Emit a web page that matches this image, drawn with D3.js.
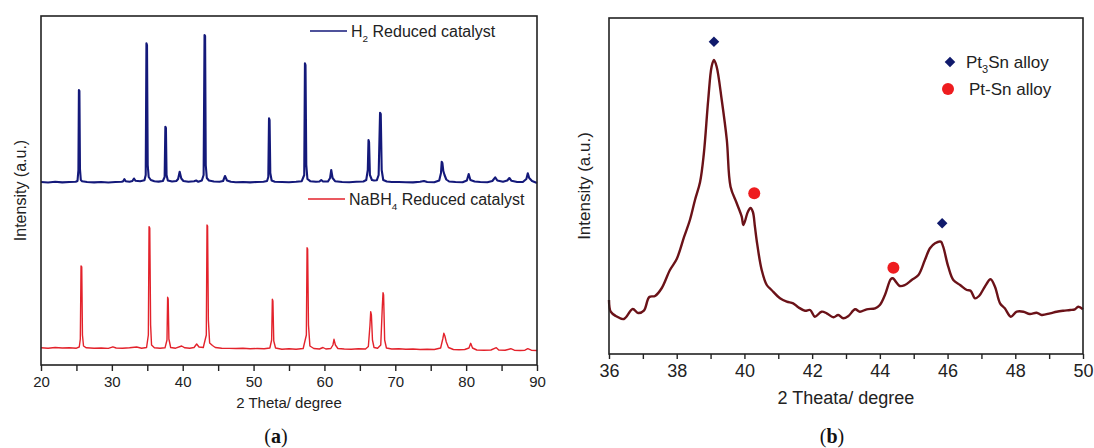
<!DOCTYPE html>
<html>
<head>
<meta charset="utf-8">
<script src="https://cdn.jsdelivr.net/npm/d3@7"></script>
<style>
  html, body { margin: 0; padding: 0; background: #fff; }
  svg { display: block; font-family: "Liberation Sans", Arial, sans-serif; }
</style>
</head>
<body>
<svg id="fig" width="1094" height="448"></svg>
<script>
// ---------- Panel (a): wide-angle XRD patterns, [2θ (deg), intensity (a.u.)] ----------
const h2Reduced = [
  [20.0,1830],[21.0,1825],[22.0,1832],[23.0,1826],[24.0,1830],[24.9,1832],
  [25.15,1840],[25.28,1950],[25.35,2750],[25.42,2740],[25.5,1960],[25.62,1850],[25.8,1838],
  [26.5,1830],[27.5,1826],[28.5,1830],[29.5,1825],[30.5,1830],[31.4,1832],
  [31.6,1838],[31.76,1858],[31.95,1838],[32.5,1832],[32.9,1840],[33.12,1865],[33.35,1842],
  [34.0,1838],[34.6,1848],
  [34.78,1900],[34.88,3217],[34.96,3200],[35.06,2000],[35.2,1880],[35.5,1850],[36.0,1838],[36.6,1834],[37.2,1840],
  [37.45,1880],[37.55,2383],[37.63,2370],[37.72,1900],[37.9,1845],[38.5,1835],[39.1,1840],
  [39.35,1860],[39.57,1933],[39.8,1865],[40.1,1840],[40.8,1832],[41.6,1838],[41.9,1845],[42.2,1832],[42.7,1845],
  [42.95,1900],[43.08,3300],[43.16,3290],[43.25,2000],[43.4,1870],[43.7,1845],[44.4,1835],[45.2,1832],[45.7,1840],
  [45.97,1890],[46.25,1845],[46.8,1832],[47.5,1828],[48.5,1830],[49.5,1826],[50.5,1830],[51.4,1832],[51.9,1840],
  [52.08,1880],[52.18,2467],[52.26,2450],[52.36,1920],[52.55,1845],[53.0,1833],[54.0,1830],[55.0,1828],[56.0,1832],[56.8,1838],
  [57.15,1900],[57.25,3017],[57.33,3000],[57.44,2000],[57.6,1860],[58.0,1838],[58.8,1832],[59.3,1835],[59.55,1850],[59.8,1835],[60.5,1835],
  [60.8,1870],[60.96,1950],[61.15,1870],[61.5,1838],[62.5,1830],[63.5,1828],[64.5,1832],[65.5,1835],[65.9,1850],
  [66.12,1950],[66.22,2250],[66.3,2230],[66.42,1900],[66.7,1850],[67.0,1845],[67.4,1848],[67.65,1900],
  [67.85,2523],[67.95,2510],[68.08,1950],[68.3,1850],[68.8,1835],[69.5,1830],[70.5,1830],[71.5,1828],[72.5,1826],[73.5,1832],[74.05,1840],[74.5,1830],[75.5,1828],[76.2,1845],
  [76.45,1920],[76.55,2033],[76.65,2020],[76.78,1940],[76.95,1900],[77.2,1855],[77.6,1835],[78.5,1830],[79.5,1828],[80.1,1845],
  [80.36,1910],[80.6,1850],[81.2,1835],[82.0,1830],[83.0,1828],[83.7,1840],[84.1,1877],[84.4,1845],[85.2,1832],[85.8,1845],[86.1,1870],[86.4,1842],[87.2,1830],[88.0,1830],[88.5,1860],[88.7,1917],[88.9,1870],[89.3,1840],[90.0,1820]
];

const nabh4Reduced = [
  [20.0,172],[21.0,168],[22.0,175],[23.0,170],[24.0,172],[25.0,168],[25.4,180],
  [25.55,260],[25.65,990],[25.75,980],[25.85,300],[26.0,190],[26.4,172],[27.5,168],[28.5,170],[29.5,166],[30.15,182],[30.6,170],[31.5,168],[32.5,172],[33.5,180],[34.2,168],[34.9,175],
  [35.15,300],[35.25,1383],[35.35,1370],[35.47,400],[35.6,200],[36.0,172],[36.8,168],[37.5,172],
  [37.78,250],[37.87,677],[37.95,660],[38.05,260],[38.3,175],[39.0,168],[39.85,190],[40.3,172],[41.0,168],[41.6,175],[41.97,210],[42.3,180],[42.9,175],
  [43.33,300],[43.43,1400],[43.51,1390],[43.62,450],[43.8,220],[44.2,195],[44.6,175],[45.5,168],[46.5,166],[47.5,165],[48.5,168],[49.5,162],[50.5,165],[51.5,162],[52.3,170],
  [52.55,250],[52.65,657],[52.73,640],[52.85,240],[53.1,170],[54.0,158],[55.0,162],[56.0,158],[57.0,165],
  [57.45,300],[57.55,1173],[57.63,1160],[57.75,400],[57.95,190],[58.5,165],[59.3,160],[59.8,175],[60.2,160],[60.9,165],
  [61.2,200],[61.35,257],[61.55,200],[61.9,165],[62.8,160],[63.8,158],[64.8,162],[65.8,160],[66.2,185],
  [66.43,400],[66.53,533],[66.63,500],[66.78,250],[67.0,175],[67.5,168],[67.95,200],
  [68.18,600],[68.27,723],[68.35,700],[68.5,250],[68.75,170],[69.5,160],[70.5,162],[71.5,158],[72.5,160],[73.5,155],[74.5,158],[75.5,155],[76.4,170],
  [76.7,260],[76.85,317],[77.0,290],[77.2,230],[77.5,175],[78.2,155],[79.0,152],[79.8,155],[80.4,170],
  [80.64,217],[80.9,170],[81.5,150],[82.5,148],[83.5,150],[84.26,173],[84.6,150],[85.5,148],[86.3,163],[86.8,148],[87.6,145],[88.3,148],[88.7,163],[89.2,148],[90.0,145]
];

const xTicksA = [20, 30, 40, 50, 60, 70, 80, 90];
const xMinorA = [25, 35, 45, 55, 65, 75, 85];
const legendA = ["H", "2", " Reduced catalyst", "NaBH", "4", " Reduced catalyst"];

// ---------- Panel (b): narrow-scan XRD, [2θ (deg), intensity (a.u.)] ----------
const narrowScan = [
  [36.0,540],[36.05,423],[36.2,380],[36.44,350],[36.7,450],[36.86,410],[37.03,433],[37.19,570],[37.36,580],
  [37.56,660],[37.8,840],[38.0,950],[38.22,1173],[38.39,1340],[38.54,1540],[38.69,1720],[38.8,2000],
  [38.93,2540],[39.03,2873],[39.1,2940],[39.18,2873],[39.33,2540],[39.48,2140],[39.59,1673],[39.77,1510],
  [39.92,1373],[39.97,1290],[40.1,1420],[40.18,1460],[40.25,1420],[40.31,1273],[40.36,1140],[40.51,840],
  [40.66,690],[40.8,640],[41.05,557],[41.25,523],[41.44,507],[41.59,467],[41.79,433],[41.94,440],[42.08,373],
  [42.28,423],[42.43,407],[42.63,367],[42.77,390],[42.92,357],[43.07,380],[43.27,447],[43.41,423],[43.61,447],
  [43.86,457],[44.0,490],[44.15,590],[44.32,747],[44.38,757],[44.59,680],[44.74,690],[44.94,740],[45.14,790],
  [45.33,940],[45.48,1057],[45.63,1107],[45.8,1123],[45.87,1073],[46.02,873],[46.17,740],[46.37,690],[46.57,640],
  [46.68,633],[46.81,557],[46.93,580],[47.1,673],[47.27,747],[47.4,673],[47.55,507],[47.69,457],[47.87,373],
  [48.04,423],[48.24,423],[48.43,400],[48.63,413],[48.78,390],[49.03,407],[49.22,423],[49.42,433],[49.62,440],
  [49.76,447],[49.86,473],[50.0,447]
];
// phase markers placed above the reflections they identify
const pt3SnPeaks = [[39.1, 3123], [45.84, 1307]];
const ptSnPeaks  = [[40.29, 1607], [44.4, 863]];

const xTicksB = [36, 38, 40, 42, 44, 46, 48, 50];
const xMinorB = [37, 39, 41, 43, 45, 47, 49];
const legendB = ["Pt", "3", "Sn alloy", "Pt-Sn alloy"];

// ---------- styles ----------
const C_BLUE = "#14197a", C_RED = "#e3222b", C_MAROON = "#6b1218";
const C_DIAMOND = "#101a6c", C_DOT = "#ee1c1f", C_AXIS = "#222";

const svg = d3.select("#fig");

function frame(g, x, y) {
  const [x0, x1] = x.range(), [y0, y1] = y.range();
  g.append("rect").attr("x", x0).attr("y", y1).attr("width", x1 - x0).attr("height", y0 - y1)
    .attr("fill", "none").attr("stroke", C_AXIS).attr("stroke-width", 1.6);
}

function xAxis(g, x, y, majors, minors, fontSize, tickLen) {
  const yb = y.range()[0];
  const ax = g.append("g").attr("transform", `translate(0,${yb})`)
    .call(d3.axisBottom(x).tickValues(majors).tickSize(tickLen).tickPadding(5).tickFormat(d3.format("d")));
  ax.select(".domain").remove();
  ax.selectAll("line").attr("stroke", C_AXIS).attr("stroke-width", 1.4);
  ax.selectAll("text").attr("font-size", fontSize).attr("fill", "#222")
    .attr("font-family", "'Liberation Sans', Arial, sans-serif");
  const mn = g.append("g").attr("transform", `translate(0,${yb})`)
    .call(d3.axisBottom(x).tickValues(minors).tickSize(tickLen).tickFormat(""));
  mn.select(".domain").remove();
  mn.selectAll("line").attr("stroke", C_AXIS).attr("stroke-width", 1.4);
}

// ================= Panel (a) =================
const xA = d3.scaleLinear().domain([20, 90]).range([41, 537]);
const yA = d3.scaleLinear().domain([0, 3490]).range([365, 16]);
const gA = svg.append("g");

const lineA = d3.line().x(d => xA(d[0])).y(d => yA(d[1]));
gA.append("path").datum(nabh4Reduced).attr("d", lineA)
  .attr("fill", "none").attr("stroke", C_RED).attr("stroke-width", 1.4).attr("stroke-linejoin", "round");
gA.append("path").datum(h2Reduced).attr("d", lineA)
  .attr("fill", "none").attr("stroke", C_BLUE).attr("stroke-width", 2.1).attr("stroke-linejoin", "round");

frame(gA, xA, yA);
xAxis(gA, xA, yA, xTicksA, xMinorA, 15, 6);

gA.append("text").attr("x", (xA.range()[0] + xA.range()[1]) / 2).attr("y", 408)
  .attr("text-anchor", "middle").attr("font-size", 15).attr("fill", "#222").text("2 Theta/ degree");
gA.append("text").attr("transform", `translate(26,${(yA.range()[0] + yA.range()[1]) / 2}) rotate(-90)`)
  .attr("text-anchor", "middle").attr("font-size", 16).attr("fill", "#222").text("Intensity (a.u.)");

// legend entries
function legendLine(g, x, y, color, width, parts, fs) {
  g.append("line").attr("x1", x).attr("x2", x + 37).attr("y1", y).attr("y2", y)
    .attr("stroke", color).attr("stroke-width", width);
  const t = g.append("text").attr("x", x + 41).attr("y", y + 5.5).attr("font-size", fs).attr("fill", "#222");
  t.append("tspan").text(parts[0]);
  t.append("tspan").attr("font-size", fs * 0.62).attr("dy", 5).text(parts[1]);
  t.append("tspan").attr("dy", -5).text(parts[2]);
}
legendLine(gA, 310, 31, C_BLUE, 1.6, legendA.slice(0, 3), 16);
legendLine(gA, 308, 199, C_RED, 1.6, legendA.slice(3, 6), 16);

gA.append("text").attr("x", 276).attr("y", 443).attr("text-anchor", "middle")
  .attr("font-family", "'Liberation Serif', 'DejaVu Serif', serif").attr("font-size", 20).attr("fill", "#111")
  .html('(<tspan font-weight="bold">a</tspan>)');

// ================= Panel (b) =================
const xB = d3.scaleLinear().domain([36, 50]).range([609, 1083]);
const yB = d3.scaleLinear().domain([0, 3360]).range([354, 18]);
const gB = svg.append("g");

gB.append("path").datum(narrowScan)
  .attr("d", d3.line().x(d => xB(d[0])).y(d => yB(d[1])).curve(d3.curveCatmullRom.alpha(0.5)))
  .attr("fill", "none").attr("stroke", C_MAROON).attr("stroke-width", 2.4).attr("stroke-linejoin", "round");

// square turned 45° gives the rhombus marker
const diamond = d3.symbol().type(d3.symbolSquare).size(56);
gB.selectAll("path.pt3").data(pt3SnPeaks).join("path").attr("class", "pt3")
  .attr("d", diamond).attr("transform", d => `translate(${xB(d[0])},${yB(d[1])}) rotate(45)`).attr("fill", C_DIAMOND);
gB.selectAll("circle.ptsn").data(ptSnPeaks).join("circle").attr("class", "ptsn")
  .attr("cx", d => xB(d[0])).attr("cy", d => yB(d[1])).attr("r", 6).attr("fill", C_DOT);

frame(gB, xB, yB);
xAxis(gB, xB, yB, xTicksB, xMinorB, 18, 5);

gB.append("text").attr("x", (xB.range()[0] + xB.range()[1]) / 2).attr("y", 404)
  .attr("text-anchor", "middle").attr("font-size", 18).attr("fill", "#222").text("2 Theata/ degree");
gB.append("text").attr("transform", `translate(590,${(yB.range()[0] + yB.range()[1]) / 2}) rotate(-90)`)
  .attr("text-anchor", "middle").attr("font-size", 17).attr("fill", "#222").text("Intensity (a.u.)");

// legend
gB.append("path").attr("d", diamond).attr("transform", "translate(950,62) rotate(45)").attr("fill", C_DIAMOND);
const lt = gB.append("text").attr("x", 966).attr("y", 68).attr("font-size", 17).attr("fill", "#222");
lt.append("tspan").text(legendB[0]);
lt.append("tspan").attr("font-size", 11).attr("dy", 5).text(legendB[1]);
lt.append("tspan").attr("dy", -5).text(legendB[2]);
gB.append("circle").attr("cx", 948).attr("cy", 89).attr("r", 6).attr("fill", C_DOT);
gB.append("text").attr("x", 969).attr("y", 95).attr("font-size", 17).attr("fill", "#222").text(legendB[3]);

gB.append("text").attr("x", 832).attr("y", 443).attr("text-anchor", "middle")
  .attr("font-family", "'Liberation Serif', 'DejaVu Serif', serif").attr("font-size", 20).attr("fill", "#111")
  .html('(<tspan font-weight="bold">b</tspan>)');
</script>
</body>
</html>
